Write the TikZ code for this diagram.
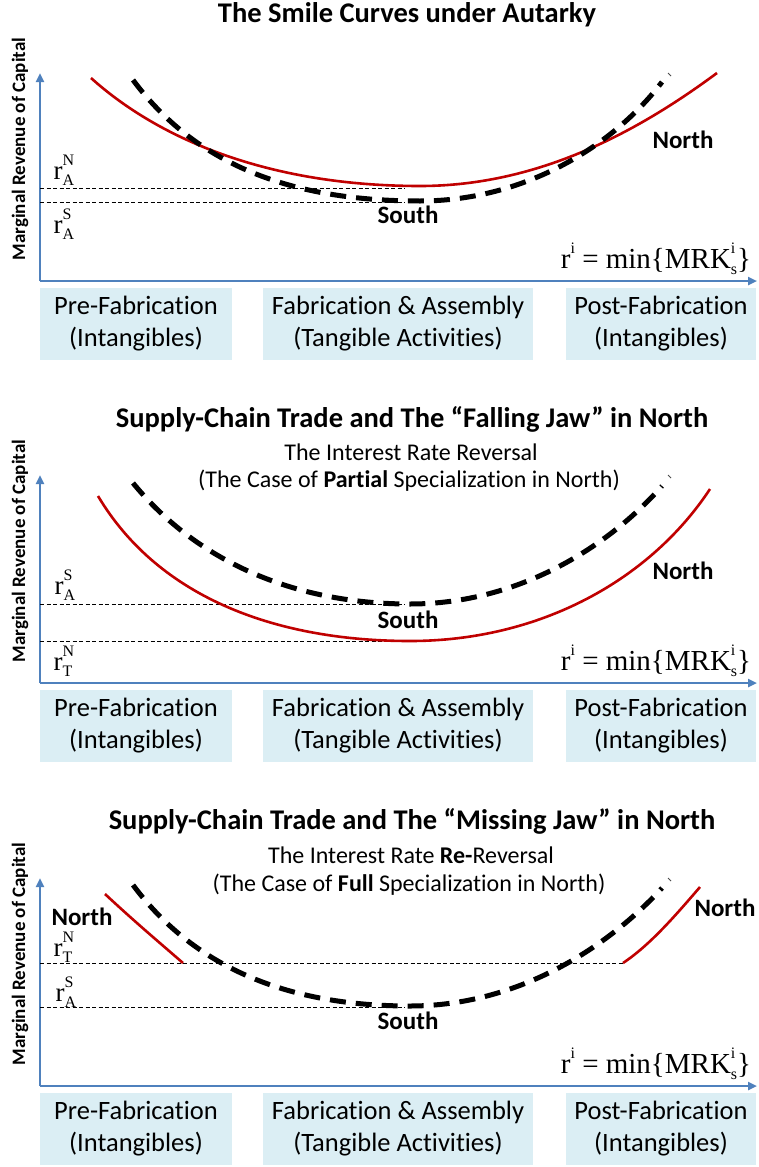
\documentclass[tikz,border=0pt]{standalone}
\usepackage{fontspec}
\setmainfont{Carlito}[Ligatures=NoCommon]
\newfontfamily\tmsfont{Liberation Serif}
\usetikzlibrary{arrows.meta}
\definecolor{redc}{RGB}{192,0,0}
\definecolor{axisblue}{RGB}{79,129,189}
\definecolor{boxfill}{RGB}{219,238,244}
\newcommand\myrl[2]{{\tmsfont\fontsize{27}{27}\selectfont r\rlap{\raisebox{0.52em}{\fontsize{16}{16}\selectfont #1}}\raisebox{-0.22em}{\fontsize{16}{16}\selectfont #2}}}
\newcommand\myformula{{\tmsfont\fontsize{29}{29}\selectfont r\raisebox{0.5em}{\fontsize{16}{16}\selectfont i} = min\{MRK\rlap{\raisebox{0.5em}{\fontsize{16}{16}\selectfont i}}\raisebox{-0.22em}{\fontsize{16}{16}\selectfont s}\}}}
\tikzset{
  axisline/.style={draw=axisblue, line width=2.5pt, -{Stealth[length=9pt,width=8pt,inset=0pt]}},
  northc/.style={draw=redc, line width=2.6pt},
  southc/.style={draw=black, line width=5pt, dash pattern=on 16pt off 10pt},
  refline/.style={draw=black, line width=1pt, dash pattern=on 4pt off 2.5pt},
  stagebox/.style={fill=boxfill, minimum height=72pt, align=center, inner sep=0pt,
     font=\fontsize{26.5}{32}\selectfont},
  ttl/.style={font=\bfseries\fontsize{28.5}{30}\selectfont, anchor=base},
  subttl/.style={font=\fontsize{24}{26}\selectfont, anchor=base},
  ylab/.style={font=\bfseries\fontsize{19}{20}\selectfont, rotate=90},
  wordlab/.style={font=\bfseries\fontsize{25}{26}\selectfont},
  tickmark/.style={draw=black!70, line width=0.8pt}
}
\newcommand\panelframe[2]{%
  \begin{scope}[shift={(0,#2)}]
    \coordinate (o#1) at (40,281);
    \coordinate (yt#1) at (40,73);
    \coordinate (xt#1) at (757,281);
    \draw[axisline] (o#1) -- (yt#1);
    \draw[axisline] (o#1) -- (xt#1);
    \node[ylab] (yl#1) at (20,149) {Marginal Revenue of Capital};
    \node (f#1) at (656,259) {\myformula};
    \node[stagebox, minimum width=192pt] (b1#1) at (136,324) {Pre-Fabrication\\(Intangibles)};
    \node[stagebox, minimum width=270pt] (b2#1) at (398,324) {Fabrication \& Assembly\\(Tangible Activities)};
    \node[stagebox, minimum width=190pt] (b3#1) at (661,324) {Post-Fabrication\\(Intangibles)};
    \coordinate (ta#1) at (668,73);
    \coordinate (tb#1) at (671,76);
    \draw[tickmark] (ta#1) -- (tb#1);
  \end{scope}}
\begin{document}
\begin{tikzpicture}[x=1pt,y=-1pt]
\useasboundingbox[fill=white] (0,0) rectangle (758,1167);

% ---------- Panel 1 ----------
\panelframe{p}{0}
\node[ttl] (t1) at (407,23) {The Smile Curves under Autarky};
\coordinate (a1) at (40,188); \coordinate (a1e) at (405,188);
\coordinate (a2) at (40,202); \coordinate (a2e) at (405,202);
\draw[refline] (a1) -- (a1e);
\draw[refline] (a2) -- (a2e);
\coordinate (nS1) at (91,78); \coordinate (nM1) at (420,186); \coordinate (nE1) at (717,73);
\draw[northc] (nS1) .. controls (160,140) and (270,186) .. (nM1)
                    .. controls (540,186) and (640,130) .. (nE1);
\coordinate (sS1) at (133,80); \coordinate (sM1) at (420,201); \coordinate (sE1) at (662,82);
\draw[southc] (sS1) .. controls (200,170) and (300,201) .. (sM1)
                    .. controls (520,201) and (610,150) .. (sE1);
\node (l1) at (64,170) {\myrl{N}{A}};
\node (l2) at (64,224) {\myrl{S}{A}};
\node[wordlab] (n1) at (683,140) {North};
\node[wordlab] (s1) at (408,215) {South};

% ---------- Panel 2 ----------
\panelframe{q}{402}
\node[ttl] (t2) at (412,427) {Supply-Chain Trade and The “Falling Jaw” in North};
\node[subttl] (st2) at (411,460) {The Interest Rate Reversal};
\node[subttl] (sc2) at (409,487) {(The Case of \textbf{Partial} Specialization in North)};
\coordinate (c1) at (40,604); \coordinate (c1e) at (405,604);
\coordinate (c2) at (40,641); \coordinate (c2e) at (405,641);
\draw[refline] (c1) -- (c1e);
\draw[refline] (c2) -- (c2e);
\coordinate (nS2) at (98,496); \coordinate (nM2) at (410,641); \coordinate (nE2) at (710,489);
\draw[northc] (nS2) .. controls (160,600) and (280,641) .. (nM2)
                    .. controls (540,641) and (650,580) .. (nE2);
\coordinate (sS2) at (133,483); \coordinate (sM2) at (410,604); \coordinate (sE2) at (662,486);
\draw[southc] (sS2) .. controls (200,565) and (300,604) .. (sM2)
                    .. controls (520,604) and (610,545) .. (sE2);
\node (l3) at (65,585) {\myrl{S}{A}};
\node (l4) at (63,661) {\myrl{N}{T}};
\node[wordlab] (n2) at (683,571) {North};
\node[wordlab] (s2) at (408,620) {South};

% ---------- Panel 3 ----------
\panelframe{r}{805}
\node[ttl] (t3) at (412,829) {Supply-Chain Trade and The “Missing Jaw” in North};
\node[subttl] (st3) at (411,863) {The Interest Rate \textbf{Re-}Reversal};
\node[subttl] (sc3) at (409,891) {(The Case of \textbf{Full} Specialization in North)};
\coordinate (d1) at (40,963); \coordinate (d1e) at (623,963);
\coordinate (d2) at (40,1007); \coordinate (d2e) at (405,1007);
\draw[refline] (d1) -- (d1e);
\draw[refline] (d2) -- (d2e);
\coordinate (sS3) at (133,885); \coordinate (sM3) at (410,1006); \coordinate (sE3) at (662,888);
\draw[southc] (sS3) .. controls (200,975) and (300,1006) .. (sM3)
                    .. controls (520,1006) and (610,945) .. (sE3);
\coordinate (nL1) at (105,894); \coordinate (nL2) at (183,963);
\draw[northc] (nL1) .. controls (135,922) and (160,943) .. (nL2);
\coordinate (nR1) at (623,963); \coordinate (nR2) at (700,887);
\draw[northc] (nR1) .. controls (650,945) and (675,916) .. (nR2);
\node (l5) at (63,947) {\myrl{N}{T}};
\node (l6) at (66,992) {\myrl{S}{A}};
\node[wordlab] (n3) at (82,917) {North};
\node[wordlab] (n4) at (725,908) {North};
\node[wordlab] (s3) at (408,1021) {South};
\end{tikzpicture}
\end{document}
